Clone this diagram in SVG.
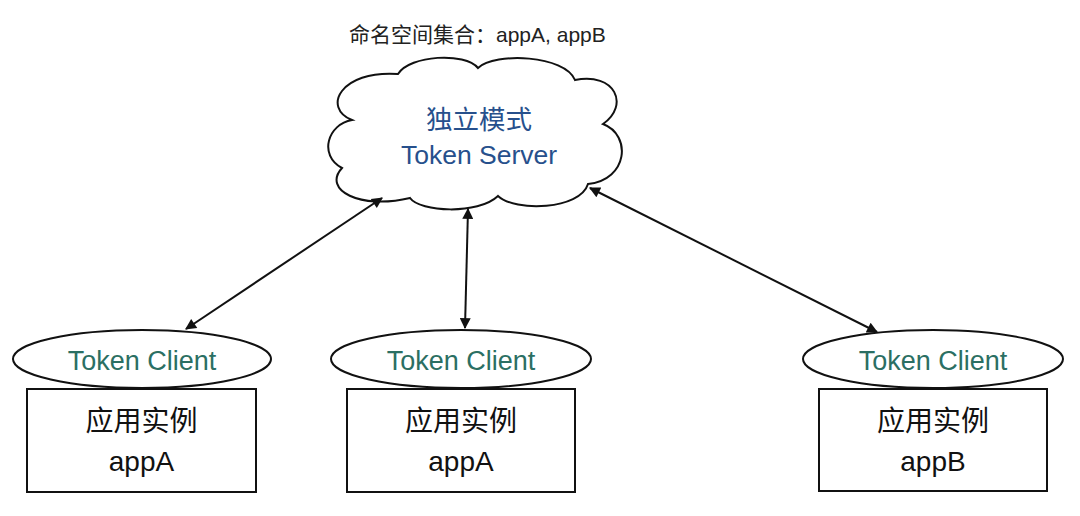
<svg xmlns="http://www.w3.org/2000/svg" width="1080" height="516" viewBox="0 0 1080 516">
<defs>
<style>
.shape{fill:#fff;stroke:#111;stroke-width:2}
.cjk{font-family:"Noto Sans CJK SC","Liberation Sans",sans-serif}
.lat{font-family:"Liberation Sans","Noto Sans CJK SC",sans-serif}
.client{font-size:27px;fill:#2b6f63;text-anchor:middle}
.app{font-size:28px;fill:#111;text-anchor:middle}
.server{font-size:26.5px;fill:#27508c;text-anchor:middle}
.conn{stroke:#111;stroke-width:2;fill:none;marker-start:url(#ah);marker-end:url(#ah)}
</style>
<marker id="ah" viewBox="0 0 10 10" refX="9" refY="5" markerWidth="15" markerHeight="11" markerUnits="userSpaceOnUse" orient="auto-start-reverse">
<path d="M0,0 L10,5 L0,10 Z" fill="#111"/>
</marker>
</defs>
<rect width="1080" height="516" fill="#fff"/>
<text x="349" y="42" class="cjk" font-size="21" fill="#222">命名空间集合：<tspan class="lat">appA, appB</tspan></text>
<g id="server">
<path class="shape" d="M352,120 C322,108 340,70 398,74 C410,55 465,52 478,68 C495,52 565,55 575,80 C615,72 630,105 603,124 C632,135 628,180 588,184 C580,210 515,212 498,196 C478,215 420,212 410,198 C360,210 322,190 342,168 C318,155 328,124 352,120 Z"/>
<text x="479" y="129" class="cjk server">独立模式</text>
<text x="479" y="164" class="lat server">Token Server</text>
</g>
<g id="clientA1">
<ellipse class="shape" cx="142" cy="359" rx="129" ry="29"/>
<text x="142" y="370" class="lat client">Token Client</text>
<rect class="shape" x="27" y="389" width="229" height="103"/>
<text x="141.5" y="431" class="cjk app">应用实例</text>
<text x="141.5" y="471" class="lat app">appA</text>
</g>
<g id="clientA2">
<ellipse class="shape" cx="461" cy="359" rx="130" ry="29"/>
<text x="461" y="370" class="lat client">Token Client</text>
<rect class="shape" x="347" y="389" width="228" height="103"/>
<text x="461" y="431" class="cjk app">应用实例</text>
<text x="461" y="471" class="lat app">appA</text>
</g>
<g id="clientB">
<ellipse class="shape" cx="933" cy="359" rx="130" ry="29"/>
<text x="933" y="370" class="lat client">Token Client</text>
<rect class="shape" x="819" y="389" width="228" height="102"/>
<text x="933" y="431" class="cjk app">应用实例</text>
<text x="933" y="471" class="lat app">appB</text>
</g>
<g id="connectors">
<line class="conn" x1="382" y1="198" x2="186" y2="329"/>
<line class="conn" x1="468" y1="209" x2="465" y2="328"/>
<line class="conn" x1="590" y1="188" x2="877" y2="332"/>
</g>
</svg>
